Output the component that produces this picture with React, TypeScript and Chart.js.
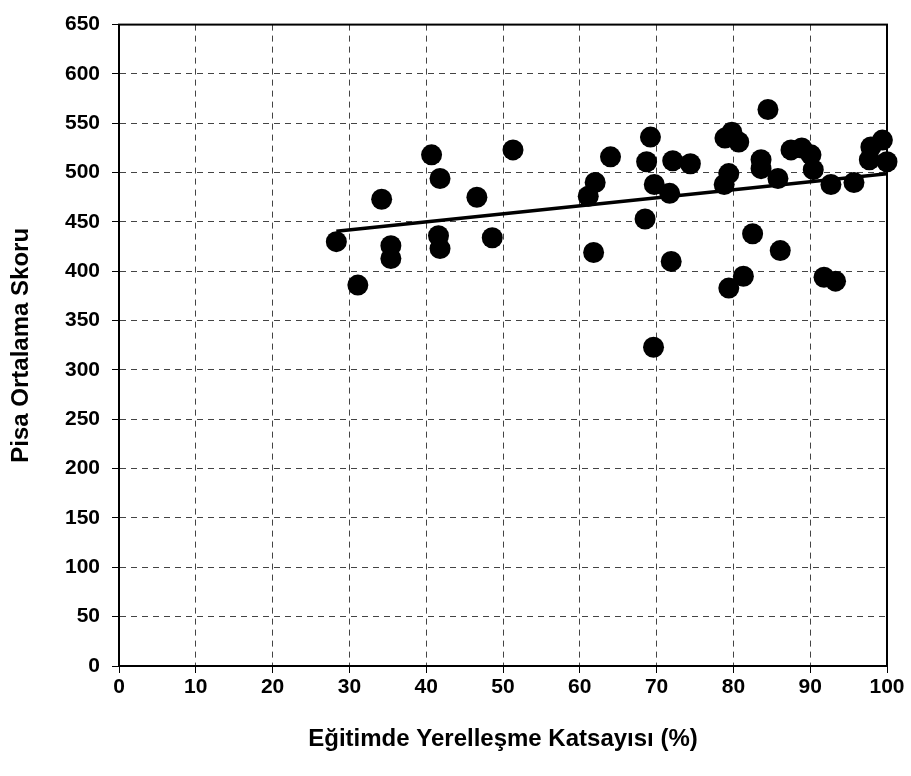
import React, { useEffect, useRef } from "react";
import { Chart, registerables } from "chart.js";

Chart.register(...registerables);

const xValues = [28.3, 31.1, 34.2, 35.4, 35.4, 40.7, 41.8, 41.6, 41.8, 46.6, 48.6, 51.3, 61.1, 62.0, 61.8, 64.0, 69.2, 68.7, 72.1, 74.4, 69.7, 71.7, 68.5, 71.9, 69.6, 79.8, 78.9, 80.7, 79.4, 78.8, 79.4, 81.3, 82.5, 84.5, 83.6, 83.6, 85.8, 87.5, 88.9, 90.1, 90.4, 92.7, 95.7, 97.9, 99.4, 97.7, 100, 86.1, 91.8, 93.3];
const yValues = [430, 386, 473, 426, 413, 518, 494, 436, 423, 475, 434, 523, 476, 490, 419, 516, 536, 511, 512, 509, 488, 479, 453, 410, 323, 541, 535, 531, 499, 488, 383, 395, 438, 564, 513, 504, 494, 523, 525, 518, 503, 488, 490, 526, 533, 513, 511, 421, 394, 390];
const trendX = [28.3, 100];
const trendY = [440.5, 498.8];

const xTitle = "Eğitimde Yerelleşme Katsayısı (%)";
const yTitle = "Pisa Ortalama Skoru";

const FONT = "'Liberation Sans', Arial, sans-serif";

const boxPlugin = {
  id: "box",
  afterDraw(chart: any) {
    const { ctx, chartArea } = chart;
    ctx.save();
    ctx.strokeStyle = "#000";
    ctx.lineWidth = 2;
    ctx.strokeRect(chartArea.left, chartArea.top, chartArea.right - chartArea.left, chartArea.bottom - chartArea.top);
    ctx.restore();
  },
};

export default function App() {
  const ref = useRef<HTMLCanvasElement | null>(null);
  useEffect(() => {
    if (!ref.current) return;
    const points = xValues.map((x, i) => ({ x, y: yValues[i] }));
    const trend = trendX.map((x, i) => ({ x, y: trendY[i] }));
    const chart = new Chart(ref.current, {
      type: "scatter",
      data: {
        datasets: [
          {
            data: points,
            backgroundColor: "#000",
            borderWidth: 0,
            pointRadius: 10.5,
            pointHoverRadius: 10.5,
            clip: false,
          } as any,
          {
            type: "line",
            data: trend,
            borderColor: "#000",
            borderWidth: 3.5,
            pointRadius: 0,
            showLine: true,
            fill: false,
          } as any,
        ],
      },
      plugins: [boxPlugin],
      options: {
        responsive: false,
        animation: false,
        devicePixelRatio: 1,
        layout: { padding: { left: 0, top: 21, right: 24, bottom: 0 } },
        plugins: { legend: { display: false }, tooltip: { enabled: false } },
        scales: {
          x: {
            type: "linear",
            min: 0,
            max: 100,
            afterFit: (s: any) => { s.height = 110; },
            ticks: { stepSize: 10, color: "#000", padding: 2, font: { family: FONT, size: 21, weight: "bold" } },
            grid: { color: "#444", lineWidth: 1, tickLength: 7, tickColor: "#000" },
            border: { display: true, color: "#000", width: 2, dash: [6, 5] },
            title: { display: true, text: xTitle, color: "#000", padding: { top: 0, bottom: 22 }, font: { family: FONT, size: 24, weight: "bold" } },
          },
          y: {
            type: "linear",
            min: 0,
            max: 650,
            afterFit: (s: any) => { s.width = 119; },
            ticks: { stepSize: 50, color: "#000", padding: 12, font: { family: FONT, size: 21, weight: "bold" } },
            grid: { color: "#444", lineWidth: 1, tickLength: 7, tickColor: "#000" },
            border: { display: true, color: "#000", width: 2, dash: [6, 5] },
            title: { display: true, text: yTitle, color: "#000", padding: { top: 7, bottom: 0 }, font: { family: FONT, size: 24, weight: "bold" } },
          },
        },
      },
    });
    return () => chart.destroy();
  }, []);
  return (
    <div style={{ position: "absolute", left: 0, top: 0, width: 911, height: 776, background: "#fff" }}>
      <canvas ref={ref} width={911} height={776} style={{ width: 911, height: 776, display: "block" }} />
    </div>
  );
}
